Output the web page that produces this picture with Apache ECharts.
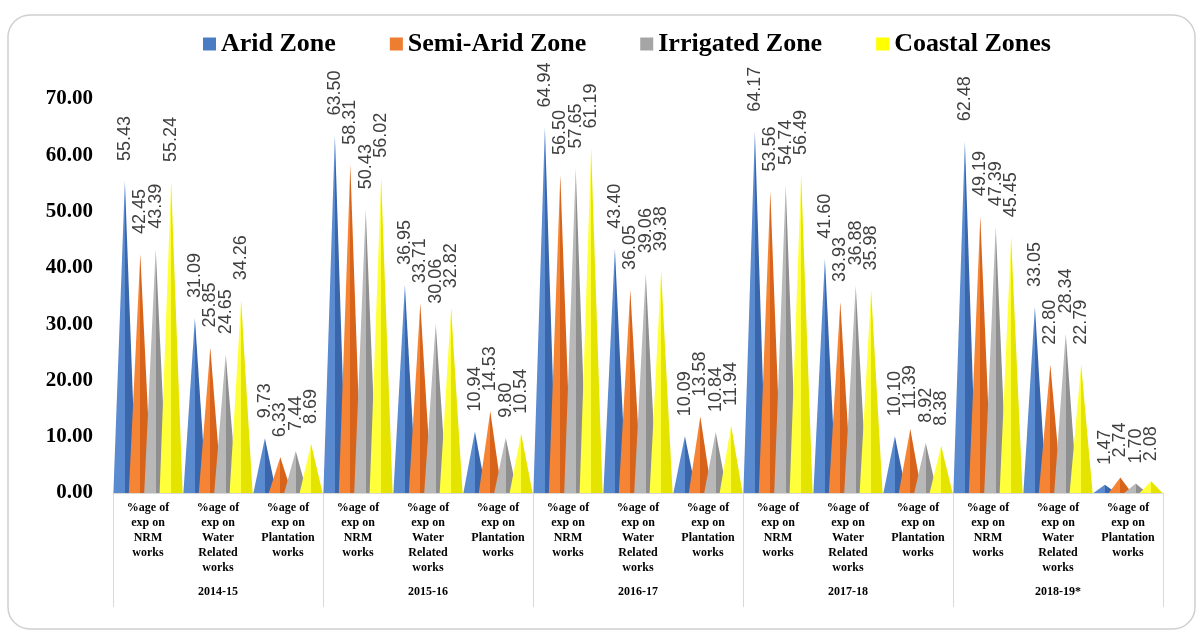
<!DOCTYPE html>
<html>
<head>
<meta charset="utf-8">
<script src="https://cdn.jsdelivr.net/npm/echarts@6/dist/echarts.min.js"></script>
<style>
  html, body { margin: 0; padding: 0; background: #fff; }
  #main { width: 1203px; height: 634px; }
</style>
</head>
<body>
<div id="main"></div>
<script>
// 年份 / 类别
var years = ['2014-15', '2015-16', '2016-17', '2017-18', '2018-19*'];
var works = [
    '%age of\nexp on\nNRM\nworks',
    '%age of\nexp on\nWater\nRelated\nworks',
    '%age of\nexp on\nPlantation\nworks'
];
var zones = ['Arid Zone', 'Semi-Arid Zone', 'Irrigated Zone', 'Coastal Zones'];

// 每年 NRM, Water, Plantation
var arid      = [55.43, 31.09, 9.73, 63.50, 36.95, 10.94, 64.94, 43.40, 10.09, 64.17, 41.60, 10.10, 62.48, 33.05, 1.47];
var semiArid  = [42.45, 25.85, 6.33, 58.31, 33.71, 14.53, 56.50, 36.05, 13.58, 53.56, 33.93, 11.39, 49.19, 22.80, 2.74];
var irrigated = [43.39, 24.65, 7.44, 50.43, 30.06, 9.80, 57.65, 39.06, 10.84, 54.74, 36.88, 8.92, 47.39, 28.34, 1.70];
var coastal   = [55.24, 34.26, 8.69, 56.02, 32.82, 10.54, 61.19, 39.38, 11.94, 56.49, 35.98, 8.38, 45.45, 22.79, 2.08];

var categories = [];
years.forEach(function () {
    works.forEach(function (w) { categories.push(w); });
});

// 颜色: 左面亮, 右面暗 (金字塔)
var faces = [
    ['#5a8ad0', '#3a66ab', '#4a7cc4'],
    ['#f58535', '#d7641a', '#ed7d31'],
    ['#b8b8b8', '#8f8f8f', '#a5a5a5'],
    ['#ffff3a', '#e4e400', '#ffff00']
];

function pyramid(name, data, i) {
    return {
        name: name,
        type: 'pictorialBar',
        symbol: 'triangle',
        barWidth: 23,
        barGap: '-33%',
        z: 2 + i,
        itemStyle: {
            color: new echarts.graphic.LinearGradient(0, 0, 1, 0, [
                { offset: 0, color: faces[i][0] },
                { offset: 0.5, color: faces[i][0] },
                { offset: 0.5, color: faces[i][1] },
                { offset: 1, color: faces[i][1] }
            ])
        },
        label: {
            show: true,
            position: 'top',
            rotate: 90,
            align: 'left',
            verticalAlign: 'middle',
            distance: 20,
            color: '#404040',
            fontFamily: 'Liberation Sans',
            fontSize: 18,
            formatter: function (p) { return p.value.toFixed(2); }
        },
        data: data
    };
}

var myChart = echarts.init(document.getElementById('main'));
var option = {
    animation: false,
    graphic: [{
        type: 'rect',
        shape: { x: 8, y: 15, width: 1187, height: 614, r: 22 },
        style: { fill: 'none', stroke: '#d0d0d0', lineWidth: 1.5 },
        silent: true
    }],
    legend: {
        top: 26,
        left: 198,
        itemGap: 54,
        itemWidth: 13,
        itemHeight: 13,
        icon: 'rect',
        textStyle: {
            fontFamily: 'Liberation Serif',
            fontWeight: 'bold',
            fontSize: 26,
            color: '#000'
        },
        data: zones.map(function (z, i) {
            return { name: z, itemStyle: { color: faces[i][2] } };
        })
    },
    grid: {
        left: 113,
        right: 40,
        top: 99,
        bottom: 141
    },
    xAxis: [{
        type: 'category',
        data: categories,
        axisTick: { show: false },
        axisLine: { lineStyle: { color: '#d9d9d9' } },
        axisLabel: {
            interval: 0,
            margin: 7,
            fontFamily: 'Liberation Serif',
            fontWeight: 'bold',
            fontSize: 12,
            lineHeight: 15,
            color: '#000',
            verticalAlign: 'top'
        }
    }, {
        type: 'category',
        position: 'bottom',
        data: years,
        axisLine: { show: false },
        axisTick: {
            show: true,
            length: 114,
            lineStyle: { color: '#d9d9d9' }
        },
        axisLabel: {
            margin: 93,
            fontFamily: 'Liberation Serif',
            fontWeight: 'bold',
            fontSize: 12,
            color: '#000'
        }
    }],
    yAxis: {
        type: 'value',
        min: 0,
        max: 70,
        interval: 10,
        axisLine: { show: false },
        axisTick: { show: false },
        splitLine: { show: false },
        axisLabel: {
            margin: 20,
            fontFamily: 'Liberation Serif',
            fontWeight: 'bold',
            fontSize: 21,
            color: '#000',
            formatter: function (v) { return v.toFixed(2); }
        }
    },
    series: [
        pyramid(zones[0], arid, 0),
        pyramid(zones[1], semiArid, 1),
        pyramid(zones[2], irrigated, 2),
        pyramid(zones[3], coastal, 3)
    ]
};
myChart.setOption(option);
</script>
</body>
</html>
